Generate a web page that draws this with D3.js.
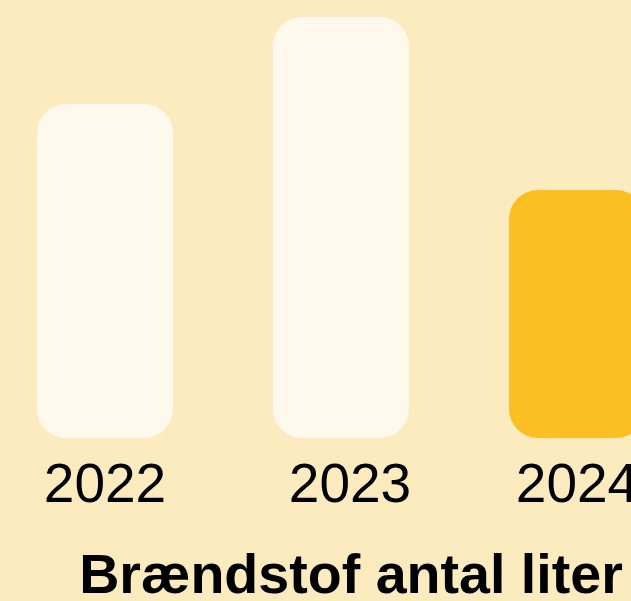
<!DOCTYPE html>
<html>
<head>
<meta charset="utf-8">
<script src="https://cdn.jsdelivr.net/npm/d3@7"></script>
<style>
  body { margin: 0; background: #fdebc0; overflow: hidden; }
  svg { display: block; }
</style>
</head>
<body>
<div id="chart-area"></div>
<script>
// data
var years = ["2022", "2023", "2024"]
var liters = [3340, 4210, 2480]
var barColors = ["#fef9ec", "#fef9ec", "#fbbf24"]
var title = "Brændstof antal liter"

var width = 631,
    height = 601

var svg = d3.select("#chart-area").append("svg")
    .attr("width", width)
    .attr("height", height)

svg.append("rect")
  .attr("width", width)
  .attr("height", height)
  .attr("fill", "#fdebc0")

var x = d3.scaleBand()
  .domain(years)
  .range([-13, 695])
  .paddingInner(100 / 236)
  .paddingOuter(50 / 236)

var y = d3.scaleLinear()
  .domain([0, d3.max(liters)])
  .range([438, 17])

var data = years.map(function(yr, i) {
  return { year: yr, value: liters[i], color: barColors[i] }
})

svg.selectAll("rect.bar")
  .data(data)
  .enter().append("rect")
    .attr("class", "bar")
    .attr("x", function(d) { return x(d.year) })
    .attr("y", function(d) { return y(d.value) })
    .attr("width", x.bandwidth())
    .attr("height", function(d) { return y(0) - y(d.value) })
    .attr("rx", 29)
    .attr("ry", 29)
    .attr("fill", function(d) { return d.color })

// year labels (axis without line/ticks)
var xAxis = d3.axisBottom(x).tickSize(0).tickPadding(0)

var gx = svg.append("g")
  .attr("transform", "translate(0," + 502 + ")")
  .call(xAxis)

gx.select(".domain").remove()
gx.selectAll("text")
  .attr("dy", 0)
  .attr("y", 0)
  .attr("fill", "#000")
  .attr("font-family", "'Liberation Sans', Arial, Helvetica, sans-serif")
  .attr("font-size", "55px")

// middle label sits a little right of its bar in the original
gx.selectAll("text")
  .filter(function(d) { return d == "2023" })
  .attr("dx", 9)

svg.append("text")
  .attr("x", 351)
  .attr("y", 593)
  .attr("text-anchor", "middle")
  .attr("font-family", "'Liberation Sans', Arial, Helvetica, sans-serif")
  .attr("font-weight", "bold")
  .attr("font-size", "55.6px")
  .attr("fill", "#000")
  .text(title)
</script>
</body>
</html>
